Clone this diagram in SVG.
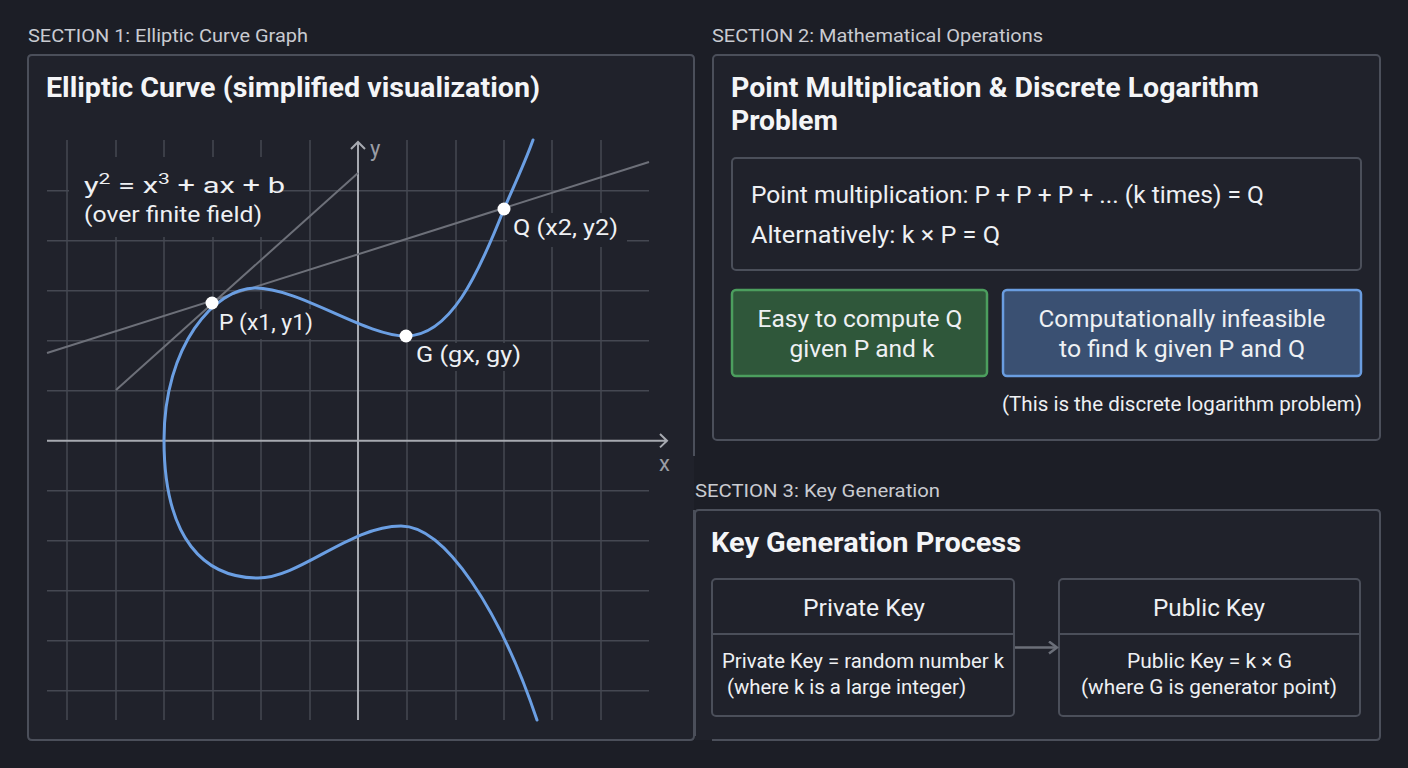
<svg xmlns="http://www.w3.org/2000/svg" width="1408" height="768" viewBox="0 0 1408 768">
<defs>
<style>
text{font-family:Roboto,"Liberation Sans",sans-serif;fill:#eef0f3}
.sec{font-size:18px;fill:#c9cbd1}
.ttl{font-size:27px;font-weight:700;fill:#f4f5f7}
.lbl{font-size:22px}
.body{font-size:24px}
.box{font-size:23px}
.sm{font-size:20px}
.ax{font-size:22px;fill:#9a9da5}
.pf{fill:#20222b}
.pb{fill:none;stroke:#4b4f5a;stroke-width:2}
.grid line{stroke:#454852;stroke-width:1.5}
.axis{stroke:#a7aab1;stroke-width:2;fill:none}
.tan{stroke:#6d7079;stroke-width:2}
.curve{fill:none;stroke:#6b9fe3;stroke-width:3;stroke-linecap:round}
.pt{fill:#ffffff}
.lbg{fill:#20222b}
</style>
<marker id="arr" markerWidth="12" markerHeight="14" refX="10" refY="7" orient="auto" markerUnits="userSpaceOnUse">
<path d="M2 1 L10 7 L2 13" fill="none" stroke="#6b6f79" stroke-width="2.5"/>
</marker>
</defs>
<rect width="1408" height="768" fill="#1c1e26"/>

<g id="section1">
<text class="sec" x="28" y="42" textLength="280" lengthAdjust="spacingAndGlyphs">SECTION 1: Elliptic Curve Graph</text>
<rect class="pf" x="28" y="55" width="666" height="685" rx="4"/>
<path class="pb" d="M694 456 L694 59 Q694 55 690 55 L32 55 Q28 55 28 59 L28 736 Q28 740 32 740 L690 740 Q694 740 694 736 L694 510"/>
<text class="ttl" x="46" y="97" textLength="494" lengthAdjust="spacingAndGlyphs">Elliptic Curve (simplified visualization)</text>

<g class="grid">
<line x1="67" y1="140" x2="67" y2="720"/>
<line x1="116" y1="140" x2="116" y2="720"/>
<line x1="164" y1="140" x2="164" y2="720"/>
<line x1="213" y1="140" x2="213" y2="720"/>
<line x1="261" y1="140" x2="261" y2="720"/>
<line x1="310" y1="140" x2="310" y2="720"/>
<line x1="407" y1="140" x2="407" y2="720"/>
<line x1="456" y1="140" x2="456" y2="720"/>
<line x1="504" y1="140" x2="504" y2="720"/>
<line x1="552" y1="140" x2="552" y2="720"/>
<line x1="601" y1="140" x2="601" y2="720"/>
<line x1="47" y1="190.7" x2="649" y2="190.7"/>
<line x1="47" y1="240.7" x2="649" y2="240.7"/>
<line x1="47" y1="290.7" x2="649" y2="290.7"/>
<line x1="47" y1="340.7" x2="649" y2="340.7"/>
<line x1="47" y1="390.7" x2="649" y2="390.7"/>
<line x1="47" y1="490.7" x2="649" y2="490.7"/>
<line x1="47" y1="540.7" x2="649" y2="540.7"/>
<line x1="47" y1="590.7" x2="649" y2="590.7"/>
<line x1="47" y1="640.7" x2="649" y2="640.7"/>
<line x1="47" y1="690.7" x2="649" y2="690.7"/>
</g>

<rect class="lbg" x="69" y="157" width="205" height="80"/>
<rect class="lbg" x="507" y="213" width="120" height="34"/>
<rect class="lbg" x="216" y="309" width="100" height="30"/>
<rect class="lbg" x="412" y="343" width="113" height="28"/>

<path class="axis" d="M358 720 L358 142 M351 149 L358 142 L365 149"/>
<path class="axis" d="M47 440.7 L667 440.7 M660 434 L667 440.7 L660 447.4"/>
<text class="ax" x="370" y="156">y</text>
<text class="ax" x="659" y="471">x</text>

<line class="tan" x1="116" y1="390" x2="358" y2="173"/>
<line class="tan" x1="47" y1="353" x2="649" y2="162"/>

<path class="curve" d="M533 140 C524 165 512 190 504 209 C478 275 450 336 406 336 C365 336 300 288 255 288 C215 288 164 345 164 440 C164 540 205 578 258 578 C300 578 350 526 401 526 C445 526 500 610 537 720"/>

<circle class="pt" cx="212" cy="303" r="6.5"/>
<circle class="pt" cx="406" cy="336" r="6.5"/>
<circle class="pt" cx="504" cy="209" r="6.5"/>

<text class="lbl" x="84" y="193" textLength="201" lengthAdjust="spacingAndGlyphs">y<tspan font-size="15" dy="-9">2</tspan><tspan dy="9"> = x</tspan><tspan font-size="15" dy="-9">3</tspan><tspan dy="9"> + ax + b</tspan></text>
<text class="lbl" x="84" y="222" textLength="178" lengthAdjust="spacingAndGlyphs">(over finite field)</text>
<text class="lbl" x="219" y="330" textLength="94" lengthAdjust="spacingAndGlyphs">P (x1, y1)</text>
<text class="lbl" x="416" y="362" textLength="105" lengthAdjust="spacingAndGlyphs">G (gx, gy)</text>
<text class="lbl" x="513" y="235" textLength="105" lengthAdjust="spacingAndGlyphs">Q (x2, y2)</text>
</g>

<g id="section2">
<text class="sec" x="712" y="42" textLength="331" lengthAdjust="spacingAndGlyphs">SECTION 2: Mathematical Operations</text>
<rect class="pf" x="713" y="55" width="667" height="385" rx="4"/>
<rect class="pb" x="713" y="55" width="667" height="385" rx="4"/>
<text class="ttl" x="731" y="97" textLength="528" lengthAdjust="spacingAndGlyphs">Point Multiplication &amp; Discrete Logarithm</text>
<text class="ttl" x="731" y="130" textLength="107" lengthAdjust="spacingAndGlyphs">Problem</text>
</g>

<g id="point-multiplication">
<rect class="pb" x="732" y="158" width="629" height="112" rx="4"/>
<text class="body" x="751" y="203" textLength="513" lengthAdjust="spacingAndGlyphs">Point multiplication: P + P + P + ... (k times) = Q</text>
<text class="body" x="751" y="243" textLength="249" lengthAdjust="spacingAndGlyphs">Alternatively: k × P = Q</text>
</g>

<g id="easy">
<rect x="732" y="290" width="255" height="86" rx="4" fill="#2f573a" stroke="#4c9e5e" stroke-width="2.5"/>
<text class="box" x="860" y="327" text-anchor="middle" textLength="205" lengthAdjust="spacingAndGlyphs">Easy to compute Q</text>
<text class="box" x="862" y="357" text-anchor="middle" textLength="145" lengthAdjust="spacingAndGlyphs">given P and k</text>
</g>

<g id="hard">
<rect x="1003" y="290" width="358" height="86" rx="4" fill="#3a5072" stroke="#6a9de0" stroke-width="2.5"/>
<text class="box" x="1182" y="327" text-anchor="middle" textLength="287" lengthAdjust="spacingAndGlyphs">Computationally infeasible</text>
<text class="box" x="1182" y="357" text-anchor="middle" textLength="246" lengthAdjust="spacingAndGlyphs">to find k given P and Q</text>
</g>
<text class="sm" x="1002" y="411" textLength="360" lengthAdjust="spacingAndGlyphs">(This is the discrete logarithm problem)</text>

<g id="section3">
<text class="sec" x="695" y="497" textLength="245" lengthAdjust="spacingAndGlyphs">SECTION 3: Key Generation</text>
<rect class="pf" x="695" y="510" width="685" height="230"/>
<path class="pb" d="M712 740 L1376 740 Q1380 740 1380 736 L1380 514 Q1380 510 1376 510 L699 510 Q695 510 695 514 L695 736"/>
<text class="ttl" x="711" y="552" textLength="310" lengthAdjust="spacingAndGlyphs">Key Generation Process</text>
</g>

<g id="private-key">
<rect class="pb" x="712" y="579" width="302" height="137" rx="4"/>
<line x1="712" y1="634" x2="1014" y2="634" stroke="#4b4f5a" stroke-width="2"/>
<text class="body" x="864" y="616" text-anchor="middle" textLength="122" lengthAdjust="spacingAndGlyphs">Private Key</text>
<text class="sm" x="863" y="668" text-anchor="middle" textLength="282" lengthAdjust="spacingAndGlyphs">Private Key = random number k</text>
<text class="sm" x="727" y="694" textLength="239" lengthAdjust="spacingAndGlyphs">(where k is a large integer)</text>
</g>

<g id="public-key">
<rect class="pb" x="1059" y="579" width="301" height="137" rx="4"/>
<line x1="1059" y1="634" x2="1360" y2="634" stroke="#4b4f5a" stroke-width="2"/>
<text class="body" x="1209" y="616" text-anchor="middle" textLength="112" lengthAdjust="spacingAndGlyphs">Public Key</text>
<text class="sm" x="1209.5" y="668" text-anchor="middle" textLength="165" lengthAdjust="spacingAndGlyphs">Public Key = k × G</text>
<text class="sm" x="1209" y="694" text-anchor="middle" textLength="256" lengthAdjust="spacingAndGlyphs">(where G is generator point)</text>
</g>

<g id="connectors">
<line x1="1015" y1="647.5" x2="1057" y2="647.5" stroke="#6b6f79" stroke-width="2.5" marker-end="url(#arr)"/>
</g>
</svg>
